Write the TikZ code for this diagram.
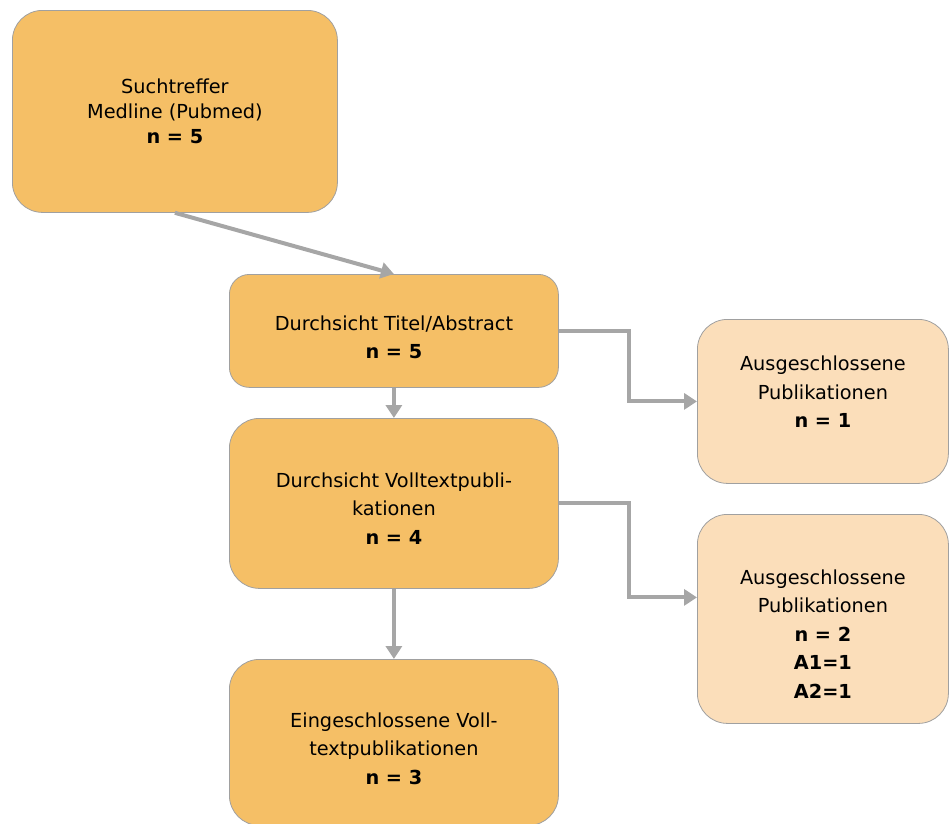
\documentclass[tikz,border=0pt]{standalone}
\usepackage{fontspec}
\setmainfont{DejaVu Sans}
\usetikzlibrary{arrows.meta,calc}
\definecolor{boxorange}{HTML}{F5BF66}
\definecolor{boxlight}{HTML}{FBDEBA}
\definecolor{edgegray}{HTML}{A0A0A0}
\definecolor{arrgray}{HTML}{A6A6A6}
\tikzset{
  box/.style={draw=edgegray, line width=0.8pt, rectangle, anchor=north west, inner sep=0pt},
  mainbox/.style={box, fill=boxorange},
  exclbox/.style={box, fill=boxlight, rounded corners=30pt},
  txt/.style={align=center, inner sep=0pt, font=\fontsize{19.3}{28.5}\selectfont},
  conn/.style={draw=arrgray, line width=4pt, -{Triangle[length=13pt,width=16pt]}},
}
\begin{document}
\begin{tikzpicture}[x=1pt,y=-1pt]
\useasboundingbox (0,0) rectangle (949,823);
\node[mainbox, rounded corners=30pt, minimum width=325pt, minimum height=202pt] (A) at (12,10) {};
\node[mainbox, rounded corners=20pt, minimum width=329pt, minimum height=113pt] (B) at (229,274) {};
\node[mainbox, rounded corners=30pt, minimum width=329pt, minimum height=170pt] (C) at (229,418) {};
\node[mainbox, rounded corners=30pt, minimum width=329pt, minimum height=166pt] (D) at (229,659) {};
\node[exclbox, minimum width=251pt, minimum height=164pt] (E) at (697,319) {};
\node[exclbox, minimum width=251pt, minimum height=209pt] (F) at (697,514) {};
\node[txt, font=\fontsize{19.3}{25}\selectfont] (At) at ($(A.center)+(0,0)$)
  {Suchtreffer\\Medline (Pubmed)\\\textbf{n = 5}};
\node[txt] (Bt) at ($(B.center)+(0,6.5)$) {Durchsicht Titel/Abstract\\\textbf{n = 5}};
\node[txt] (Ct) at ($(C.center)+(0,5)$) {Durchsicht Volltextpubli-\\kationen\\\textbf{n = 4}};
\node[txt] (Dt) at ($(D.center)+(0,6)$) {Eingeschlossene Voll-\\textpublikationen\\\textbf{n = 3}};
\node[txt] (Et) at ($(E.center)+(0,-9.5)$) {Ausgeschlossene\\Publikationen\\\textbf{n = 1}};
\node[txt] (Ft) at ($(F.center)+(0,15)$) {Ausgeschlossene\\Publikationen\\\textbf{n = 2}\\\textbf{A1=1}\\\textbf{A2=1}};
\draw[conn] (A.south) -- (B.north);
\draw[conn] (B.south) -- (C.north);
\draw[conn] (C.south) -- (D.north);
\draw[conn] (B.east) -- ++(70,0) |- (E.west);
\draw[conn] (C.east) -- ++(70,0) |- ([yshift=21.5pt]F.west);
\end{tikzpicture}
\end{document}
